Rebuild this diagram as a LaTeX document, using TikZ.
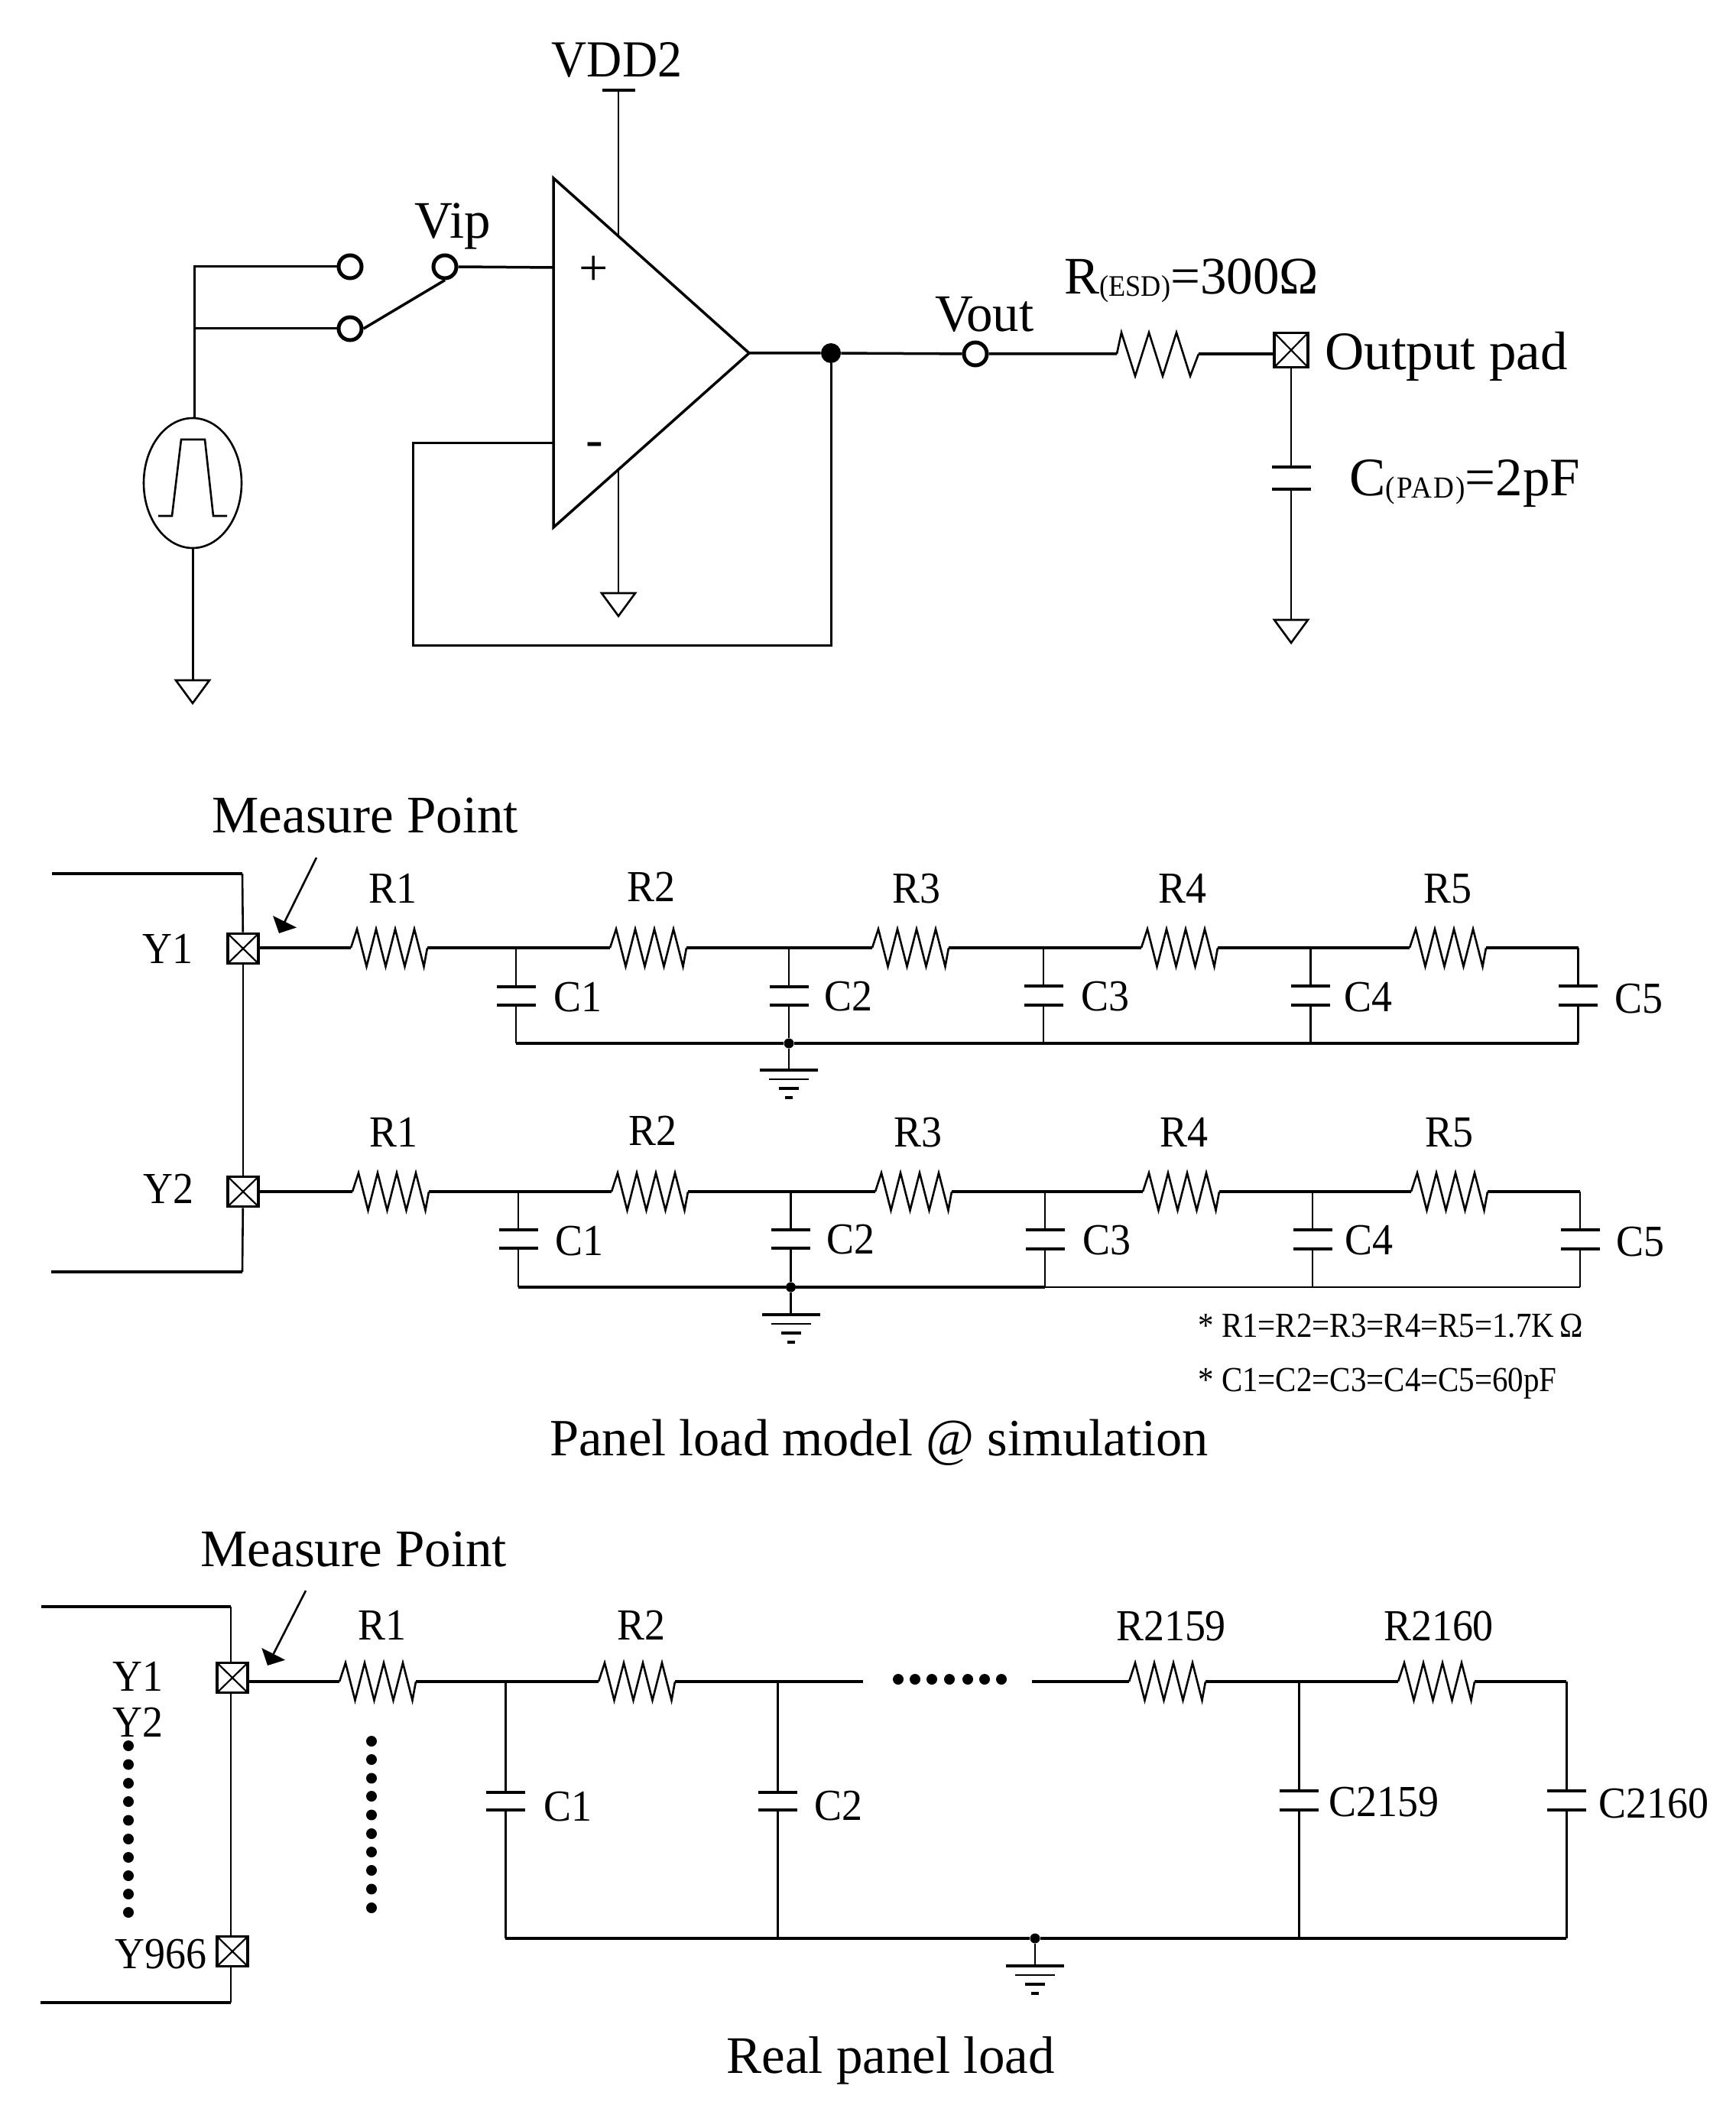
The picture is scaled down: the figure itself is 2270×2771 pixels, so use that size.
\documentclass[tikz,border=0pt]{standalone}
\usepackage{fontspec}
\usepackage{graphicx}
\setmainfont{Liberation Serif}
\newfontfamily\cnd[FakeStretch=0.93]{Liberation Serif}
\newfontfamily\cnn[FakeStretch=0.89]{Liberation Serif}
\newfontfamily\cns[FakeStretch=0.94]{Liberation Serif}
\usetikzlibrary{calc,arrows.meta,shapes.geometric}
\tikzset{
  wire/.style={line width=1.75pt,line join=miter},
  midw/.style={line width=1.5pt,line join=miter},
  thinw/.style={line width=1.3pt,line join=miter},
  plate/.style={line width=1.9pt},
  big/.style={font=\fontsize{34.5}{38}\selectfont,inner sep=0pt,anchor=base west},
  lab/.style={font=\fontsize{29}{32}\selectfont\cnd,inner sep=0pt,anchor=base},
  labw/.style={lab,anchor=base west},
  note/.style={font=\fontsize{23}{26}\selectfont\cnn,inner sep=0pt,anchor=base west},
  term/.style={circle,draw,line width=2.5pt,minimum size=15pt,inner sep=0pt,fill=white},
  jdot/.style={circle,fill=black,minimum size=6.5pt,inner sep=0pt},
  pad/.style={rectangle,draw,line width=1.8pt,minimum width=20pt,minimum height=19.5pt,inner sep=0pt,
    path picture={\draw[line width=1.1pt] (path picture bounding box.north west) -- (path picture bounding box.south east)
      (path picture bounding box.north east) -- (path picture bounding box.south west);}},
  mark tip/.style={thinw,-{Triangle[length=8.5pt,width=17pt]}}
}
\newcommand\Rfour[3]{% name, x, y
  \coordinate (#1a) at (#2,#3);
  \coordinate (#1b) at ($(#1a)+(100,0)$);
  \draw[thinw] (#1a) -- ++(8,-24.5) -- ++(12.5,49) -- ++(12.5,-49) -- ++(12.5,49) -- ++(12.5,-49)
     -- ++(12.5,49) -- ++(12.5,-49) -- ++(12.5,49) -- (#1b);
}
\newcommand\Rthree[3]{%
  \coordinate (#1a) at (#2,#3);
  \coordinate (#1b) at ($(#1a)+(107,0)$);
  \draw[thinw] (#1a) -- ++(6,-28) -- ++(18,57) -- ++(18,-57) -- ++(18,57) -- ++(18,-57) -- ++(18,57) -- (#1b);
}
\newcommand\Capa[4]{% name, x, y top plate, y bottom plate
  \coordinate (#1t) at (#2,#3);
  \coordinate (#1e) at (#2,#4);
  \draw[plate] ($(#1t)+(-25.5,0)$) -- ($(#1t)+(25.5,0)$) ($(#1e)+(-25.5,0)$) -- ($(#1e)+(25.5,0)$);
}
\newcommand\GndT[3]{% name, x, y
  \coordinate (#1) at (#2,#3);
  \draw[thinw] ($(#1)+(-22,0)$) -- ($(#1)+(22,0)$) -- ($(#1)+(0,30)$) -- cycle;
}
\newcommand\GndB[3]{% name, x, y
  \coordinate (#1) at (#2,#3);
  \draw[plate] ($(#1)+(-38,0)$) -- ($(#1)+(38,0)$);
  \draw[thinw] ($(#1)+(-26,12)$) -- ($(#1)+(26,12)$);
  \draw[plate] ($(#1)+(-13,24)$) -- ($(#1)+(13,24)$);
  \draw[plate] ($(#1)+(-5,36)$) -- ($(#1)+(5,36)$);
}
\newcommand\subs[1]{{\fontsize{20}{20}\selectfont\cnd\addfontfeatures{LetterSpace=5}\raisebox{-1.5pt}{#1}}}
\newcommand\subn[1]{{\fontsize{19.5}{20}\selectfont\cnd\raisebox{-1.5pt}{#1}}}
\begin{document}
\begin{tikzpicture}[x=0.5pt,y=-0.5pt]
\useasboundingbox (0,0) rectangle (2270,2771);
\fill[white] (0,0) rectangle (2270,2771);

%%% ---------- Top circuit ----------
\coordinate (opT) at (724,233);
\coordinate (opB) at (724,690);
\coordinate (opO) at (980,462);
\draw[wire] (opT) -- (opO) -- (opB) -- cycle;

\node[big,anchor=base,font=\fontsize{34}{38}\selectfont\cns] (vdd) at (807,101) {VDD2};
\coordinate (vddT) at (809,118);
\coordinate (vddE) at (809,309);
\draw[wire] (788,118) -- (831,118);
\draw[thinw] (vddT) -- (vddE);
\coordinate (gndE) at (809,614);
\GndT{gOp}{809}{776}
\draw[thinw] (gndE) -- (gOp);
\node[inner sep=0pt,font=\fontsize{34}{36}\selectfont] (plus) at (777,354) {+};
\node[inner sep=0pt,font=\fontsize{34}{36}\selectfont] (minus) at (778,588) {-};

\node[term] (swA) at (458,349) {};
\node[term] (swB) at (458,430) {};
\node[term] (swC) at (582,349) {};
\coordinate (inP) at (724,350);
\coordinate (inN) at (724,579);
\draw[wire] (swC.east) -- (inP);
\draw[wire] (swB.east) -- (swC.south);
\node[big] (vip) at (542,312) {Vip};

\node[ellipse,draw,line width=1.3pt,minimum width=64pt,minimum height=85pt,inner sep=0pt] (src) at (252,632) {};
\draw[thinw] (207,675) -- (225,675) -- (237,575) -- (268,575) -- (279,675) -- (297,675);
\coordinate (j1) at (254,347);
\coordinate (j2) at (254,430);
\draw[midw] (swA.west) -- (swA.west -| j1) -- (j2 |- src.north);
\draw[midw] (swB.west) -- (j2);
\GndT{gSrc}{252}{890}
\draw[midw] (src.south) -- (gSrc);

\node[jdot,minimum size=13pt] (jo) at (1087,462) {};
\node[term] (vo) at (1276,463) {};
\Rthree{resd}{1461}{463}
\node[pad,minimum width=22pt,minimum height=22.5pt] (opad) at (1689,458) {};
\draw[wire] (opO) -- (jo) -- (vo) -- (resda);
\draw[wire] (resdb) -- (opad.west |- resdb);
\draw[midw] (jo) -- (1087,844) -- (540,844) -- (540,579) -- (inN);
\node[big] (vout) at (1223,434) {Vout};
\node[big] (resdl) at (1392,385) {R\subn{(ESD)}=300Ω};
\node[big,font=\fontsize{35.5}{38}\selectfont] (opadl) at (1733,484) {Output pad};
\node[big,font=\fontsize{35.5}{38}\selectfont] (cpadl) at (1765,648) {C\subs{(PAD)}=2pF};
\Capa{cp}{1689}{611}{640}
\GndT{gPad}{1689}{811}
\draw[thinw] (opad) -- (cpt);
\draw[thinw] (cpe) -- (gPad);

%%% ---------- Panel load model ----------
\node[big] (mp1) at (277,1089) {Measure Point};
\coordinate (ar1s) at (414,1122);
\coordinate (ar1t) at (365,1221);
\draw[mark tip] (ar1s) -- (ar1t);

\node[pad] (pY1) at (318,1241) {};
\node[pad] (pY2) at (318,1559) {};
\coordinate (ltop) at (68,1143);
\coordinate (lbot) at (67,1664);
\draw[wire] (ltop) -- (317,1143);
\draw[thinw] (317,1143) -- (pY1);
\draw[thinw] (pY1) -- (pY2);
\draw[thinw] (pY2) -- (317,1664);
\draw[wire] (317,1664) -- (lbot);
\node[lab,anchor=base east] (ly1) at (253,1260) {Y1};
\node[lab,anchor=base east] (ly2) at (254,1574) {Y2};

% row 1
\Rfour{ra1}{459}{1240}
\Rfour{ra2}{798}{1240}
\Rfour{ra3}{1141}{1240}
\Rfour{ra4}{1493}{1240}
\Rfour{ra5}{1844}{1240}
\Capa{ca1}{675}{1291}{1315}
\Capa{ca2}{1032}{1291}{1315}
\Capa{ca3}{1365}{1290}{1315}
\Capa{ca4}{1714.5}{1290}{1315}
\Capa{ca5}{2064.5}{1290}{1315}
\coordinate (ja1) at (675,1240);
\coordinate (ja2) at (1032,1240);
\coordinate (ja3) at (1365,1240);
\coordinate (ja4) at (1714.5,1240);
\coordinate (ja5) at (2064.5,1240);
\coordinate (ka1) at (675,1365);
\node[jdot] (ka2) at (1032,1365) {};
\coordinate (ka3) at (1365,1365);
\coordinate (ka4) at (1714.5,1365);
\coordinate (ka5) at (2064.5,1365);
\draw[wire] (pY1.east |- ra1a) -- (ra1a) (ra1b) -- (ja1) -- (ra2a) (ra2b) -- (ja2) -- (ra3a) (ra3b) -- (ja3) -- (ra4a) (ra4b) -- (ja4) -- (ra5a) (ra5b) -- (ja5);
\draw[thinw] (ja1) -- (ca1t) (ca1e) -- (ka1) (ja2) -- (ca2t) (ca2e) -- (ka2) (ja3) -- (ca3t) (ca3e) -- (ka3) (ja4) -- (ca4t) (ca4e) -- (ka4) (ja5) -- (ca5t) (ca5e) -- (ka5);
\draw[wire] (ka1) -- (ka2) -- (ka3) -- (ka4) -- (ka5);
\GndB{ga}{1032}{1400}
\draw[thinw] (ka2) -- (ga);
\node[lab] (lra1) at (514,1181) {R1};
\node[lab] (lra2) at (852,1179) {R2};
\node[lab] (lra3) at (1199,1181) {R3};
\node[lab] (lra4) at (1547,1181) {R4};
\node[lab] (lra5) at (1894,1181) {R5};
\node[labw] (lca1) at (724,1323) {C1};
\node[labw] (lca2) at (1078,1322) {C2};
\node[labw] (lca3) at (1414,1322) {C3};
\node[labw] (lca4) at (1758,1323) {C4};
\node[labw] (lca5) at (2112,1325) {C5};

% row 2
\Rfour{rb1}{461}{1559}
\Rfour{rb2}{800}{1559}
\Rfour{rb3}{1145}{1559}
\Rfour{rb4}{1495}{1559}
\Rfour{rb5}{1846}{1559}
\Capa{cb1}{678}{1609}{1633}
\Capa{cb2}{1034.5}{1609}{1633}
\Capa{cb3}{1367}{1609}{1634}
\Capa{cb4}{1717}{1609}{1634}
\Capa{cb5}{2067}{1609}{1634}
\coordinate (jb1) at (678,1559);
\coordinate (jb2) at (1034.5,1559);
\coordinate (jb3) at (1367,1559);
\coordinate (jb4) at (1717,1559);
\coordinate (jb5) at (2067,1559);
\coordinate (kb1) at (678,1684);
\node[jdot] (kb2) at (1034.5,1684) {};
\coordinate (kb3) at (1367,1684);
\coordinate (kb4) at (1717,1684);
\coordinate (kb5) at (2067,1684);
\draw[wire] (pY2.east |- rb1a) -- (rb1a) (rb1b) -- (jb1) -- (rb2a) (rb2b) -- (jb2) -- (rb3a) (rb3b) -- (jb3) -- (rb4a) (rb4b) -- (jb4) -- (rb5a) (rb5b) -- (jb5);
\draw[thinw] (jb1) -- (cb1t) (cb1e) -- (kb1) (jb2) -- (cb2t) (cb2e) -- (kb2) (jb3) -- (cb3t) (cb3e) -- (kb3) (jb4) -- (cb4t) (cb4e) -- (kb4) (jb5) -- (cb5t) (cb5e) -- (kb5);
\draw[wire] (kb1) -- (kb2) -- (kb3);
\draw[thinw] (kb3) -- (kb4) -- (kb5);
\GndB{gb}{1034.5}{1720}
\draw[thinw] (kb2) -- (gb);
\node[lab] (lrb1) at (515,1500) {R1};
\node[lab] (lrb2) at (854,1498) {R2};
\node[lab] (lrb3) at (1201,1500) {R3};
\node[lab] (lrb4) at (1549,1500) {R4};
\node[lab] (lrb5) at (1896,1500) {R5};
\node[labw] (lcb1) at (726,1642) {C1};
\node[labw] (lcb2) at (1081,1640) {C2};
\node[labw] (lcb3) at (1416,1641) {C3};
\node[labw] (lcb4) at (1759,1641) {C4};
\node[labw] (lcb5) at (2114,1643) {C5};

\node[note] (n1) at (1567,1749) {* R1=R2=R3=R4=R5=1.7K\,Ω};
\node[note] (n2) at (1567,1820) {* C1=C2=C3=C4=C5=60pF};
\node[big,font=\fontsize{34.2}{38}\selectfont] (t1) at (719,1904) {Panel load model @ simulation};

%%% ---------- Real panel load ----------
\node[big] (mp2) at (262,2049) {Measure Point};
\coordinate (ar2s) at (400,2081);
\coordinate (ar2t) at (350,2179);
\draw[mark tip] (ar2s) -- (ar2t);
\node[pad] (qY1) at (304,2195) {};
\node[pad] (qY9) at (304,2553) {};
\coordinate (mtop) at (54,2102);
\coordinate (mbot) at (53,2620);
\draw[wire] (mtop) -- (302,2102);
\draw[thinw] (302,2102) -- (302,2176) (302,2214) -- (302,2533) (302,2573) -- (302,2620);
\draw[wire] (302,2620) -- (mbot);
\node[lab,anchor=base west] (lq1) at (147,2212) {Y1};
\node[lab,anchor=base west] (lq2) at (147,2272) {Y2};
\node[lab,anchor=base west] (lq9) at (150,2575) {Y966};
\foreach \i/\y in {1/2284,2/2308.5,3/2333,4/2357,5/2381.5,6/2406,7/2430,8/2454,9/2478,10/2502}
  \node[jdot,minimum size=7pt] (dl\i) at (168,\y) {};
\foreach \i/\y in {1/2278,2/2302,3/2326.5,4/2350,5/2374.5,6/2399,7/2423,8/2447,9/2471.5,10/2496}
  \node[jdot,minimum size=7pt] (dm\i) at (486,\y) {};
\foreach \i/\x in {1/1175,2/1197,3/1219,4/1242,5/1266,6/1288,7/1310}
  \node[jdot,minimum size=7pt] (dh\i) at (\x,2197) {};

\Rfour{rc1}{444}{2200}
\Rfour{rc2}{783}{2200}
\Rfour{rc3}{1477}{2200}
\Rfour{rc4}{1829}{2200}
\Capa{cc1}{661}{2345}{2368}
\Capa{cc2}{1017}{2345}{2368}
\Capa{cc3}{1699}{2343}{2368}
\Capa{cc4}{2049}{2343}{2368}
\coordinate (jc1) at (661,2200);
\coordinate (jc2) at (1017,2200);
\coordinate (jc3) at (1699,2200);
\coordinate (jc4) at (2049,2200);
\coordinate (kc1) at (661,2536);
\coordinate (kc2) at (1017,2536);
\coordinate (kc3) at (1699,2536);
\coordinate (kc4) at (2049,2536);
\node[jdot] (kcg) at (1354,2536) {};
\coordinate (gap1) at (1129,2200);
\coordinate (gap2) at (1350,2200);
\draw[wire] (qY1.east |- rc1a) -- (rc1a) (rc1b) -- (jc1) -- (rc2a) (rc2b) -- (jc2) -- (gap1) (gap2) -- (rc3a) (rc3b) -- (jc3) -- (rc4a) (rc4b) -- (jc4);
\draw[midw] (jc1) -- (cc1t) (cc1e) -- (kc1) (jc2) -- (cc2t) (cc2e) -- (kc2) (jc3) -- (cc3t) (cc3e) -- (kc3) (jc4) -- (cc4t) (cc4e) -- (kc4);
\draw[wire] (kc1) -- (kc2) -- (kcg) -- (kc3) -- (kc4);
\GndB{gc}{1354}{2572}
\draw[thinw] (kcg) -- (gc);
\node[lab] (lrc1) at (500,2145) {R1};
\node[lab] (lrc2) at (839,2145) {R2};
\node[lab] (lrc3) at (1532,2146) {R2159};
\node[lab] (lrc4) at (1882,2146) {R2160};
\node[labw] (lcc1) at (711,2382) {C1};
\node[labw] (lcc2) at (1065,2381) {C2};
\node[labw] (lcc3) at (1738,2376) {C2159};
\node[labw] (lcc4) at (2091,2378) {C2160};
\node[big] (t2) at (950,2712) {Real panel load};
\end{tikzpicture}
\end{document}
